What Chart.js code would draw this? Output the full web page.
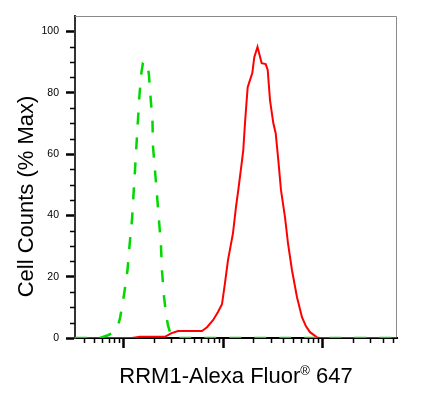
<!DOCTYPE html>
<html>
<head>
<meta charset="utf-8">
<script src="https://cdn.jsdelivr.net/npm/chart.js@4/dist/chart.umd.min.js"></script>
<style>
  html, body { margin: 0; padding: 0; background: #fff; }
  canvas { display: block; }
</style>
</head>
<body>
<canvas id="c" width="441" height="393"></canvas>
<script>
// ---- Data ----
// Isotype control (green dashed): fluorescence intensity vs % max
const controlX = [32.2, 57.4, 69.0, 75.7, 87.0, 91.2, 100, 108.4, 113.6, 120.3, 124.6, 129.0, 133.5, 138.2, 143.1, 149.9, 155.2, 162.6, 172.3, 178.3, 184.6, 193.4, 195.6, 205, 214.7, 224.8, 235.4, 241, 252.4, 264.2, 276.8, 296.7, 325.5, 55420];
const controlY = [0, 0, 0.9, 1.5, 4.1, 6.4, 14, 22, 30, 38.4, 46.6, 54.7, 62.9, 71.1, 79.2, 86.7, 89.7, 90.3, 89, 85.7, 78.9, 70.7, 62.6, 54.7, 46.6, 38.4, 30.2, 22, 13.6, 8, 4.1, 0.9, 0, 0];
// RRM1 stained sample (red solid)
const rrm1X = [32.2, 120.3, 144.8, 258.2, 296.7, 348.9, 608, 682.8, 784.7, 880.5, 966, 1035, 1110, 1246, 1335, 1408, 1524, 1581, 1645, 1711, 1751, 1846, 1948, 2040, 2197, 2420, 2656, 2782, 2934, 3166, 3347, 3555, 3784, 4150, 4448, 4880, 5480, 6150, 6746, 7400, 8704, 9328, 55420];
const rrm1Y = [0, 0, 0.4, 0.4, 1.5, 2.3, 2.3, 3.5, 5.8, 8.5, 11.0, 17.9, 25.4, 34.2, 42.7, 48.2, 57.0, 61.3, 70.1, 77.6, 81.8, 84.1, 86.4, 91.6, 94.9, 89.6, 89.3, 87.4, 77.6, 70.1, 66.8, 58.0, 48.2, 39.4, 30.9, 22.1, 13.3, 6.8, 3.8, 1.9, 0.2, 0, 0];

// Axis ticks
const yTickValues = [0, 5, 10, 15, 20, 25, 30, 35, 40, 45, 50, 55, 60, 65, 70, 75, 80, 85, 90, 95, 100];
const yLabelValues = [0, 20, 40, 60, 80, 100];
const xTickValues = [40, 50, 60, 70, 80, 90, 100, 200, 300, 400, 500, 600, 700, 800, 900, 1000, 2000, 3000, 4000, 5000, 6000, 7000, 8000, 9000, 10000, 20000, 30000, 40000, 50000];
const xMajorValues = [100, 1000, 10000];

const xTitleMain = 'RRM1-Alexa Fluor';
const xTitleSup = '®';
const xTitleTail = ' 647';
const yTitle = 'Cell Counts (% Max)';

const FONT = 'Arial, "Liberation Sans", sans-serif';

function pts(xs, ys) { return xs.map((x, i) => ({ x: x, y: ys[i] })); }
const isMajorX = v => xMajorValues.includes(v);
const isMajorY = v => yLabelValues.includes(v);

const frameAndTicks = {
  id: 'frameAndTicks',
  beforeDatasetsDraw(chart) {
    const { ctx, chartArea: a } = chart;
    ctx.save();
    ctx.strokeStyle = '#8a8a8a';
    ctx.lineWidth = 1;
    ctx.beginPath();
    ctx.moveTo(a.left, a.top + 0.5);
    ctx.lineTo(a.right - 0.5, a.top + 0.5);
    ctx.lineTo(a.right - 0.5, a.bottom);
    ctx.stroke();
    ctx.restore();
  },
  afterDraw(chart) {
    const { ctx, chartArea: a } = chart;
    const xs = chart.scales.x, ys = chart.scales.y;
    ctx.save();
    ctx.strokeStyle = '#000';
    ctx.lineWidth = 1.5;
    // minor y ticks
    yTickValues.filter(v => !isMajorY(v)).forEach(v => {
      const p = Math.round(ys.getPixelForValue(v)) + 0.5;
      ctx.beginPath();
      ctx.moveTo(a.left - 5, p);
      ctx.lineTo(a.left, p);
      ctx.stroke();
    });
    // minor x ticks
    xTickValues.filter(v => !isMajorX(v)).forEach(v => {
      const p = Math.round(xs.getPixelForValue(v)) + 0.5;
      ctx.beginPath();
      ctx.moveTo(p, a.bottom);
      ctx.lineTo(p, a.bottom + 5);
      ctx.stroke();
    });
    // axis titles
    ctx.fillStyle = '#000';
    ctx.textBaseline = 'alphabetic';
    // x title with superscript ®
    const mainFont = '22px ' + FONT, supFont = '13px ' + FONT;
    ctx.font = mainFont;
    const w1 = ctx.measureText(xTitleMain).width;
    const w3 = ctx.measureText(xTitleTail).width;
    ctx.font = supFont;
    const w2 = ctx.measureText(xTitleSup).width;
    const total = w1 + w2 + w3;
    let x0 = (a.left + a.right) / 2 - total / 2;
    const base = 383;
    ctx.textAlign = 'left';
    ctx.font = mainFont;
    ctx.fillText(xTitleMain, x0, base);
    ctx.font = supFont;
    ctx.fillText(xTitleSup, x0 + w1, base - 8);
    ctx.font = mainFont;
    ctx.fillText(xTitleTail, x0 + w1 + w2, base);
    // y title
    ctx.translate(33, chart.height / 2);
    ctx.rotate(-Math.PI / 2);
    ctx.textAlign = 'center';
    ctx.font = mainFont;
    ctx.fillText(yTitle, 0, 0);
    ctx.restore();
  }
};

new Chart(document.getElementById('c'), {
  type: 'line',
  data: {
    datasets: [
      {
        label: 'RRM1',
        data: pts(rrm1X, rrm1Y),
        borderColor: '#ff0000',
        borderWidth: 2,
        pointRadius: 0,
        tension: 0,
        fill: false,
        order: 2
      },
      {
        label: 'Isotype control',
        data: pts(controlX, controlY),
        borderColor: '#00d800',
        borderWidth: 2.5,
        borderDash: [12, 13],
        pointRadius: 0,
        tension: 0,
        fill: false,
        order: 1
      }
    ]
  },
  options: {
    responsive: false,
    devicePixelRatio: 1,
    animation: false,
    events: [],
    layout: { padding: { top: 16, right: 44, left: 0, bottom: 0 } },
    plugins: { legend: { display: false }, tooltip: { enabled: false }, title: { display: false } },
    scales: {
      x: {
        type: 'logarithmic',
        min: 32.2,
        max: 55420,
        afterBuildTicks: s => { s.ticks = xTickValues.map(v => ({ value: v })); },
        afterFit: s => { s.height = 55; },
        ticks: { display: false, autoSkip: false },
        grid: {
          display: true,
          drawOnChartArea: false,
          drawTicks: true,
          tickLength: 10,
          tickWidth: 2.5,
          tickColor: c => (c.tick && isMajorX(c.tick.value)) ? '#000' : 'rgba(0,0,0,0)'
        },
        border: { display: true, color: '#000', width: 2 }
      },
      y: {
        type: 'linear',
        min: 0,
        max: 105,
        afterBuildTicks: s => { s.ticks = yTickValues.map(v => ({ value: v })); },
        afterFit: s => { s.width = 75; },
        ticks: {
          autoSkip: false,
          padding: 7,
          color: '#000',
          font: { family: FONT, size: 10.5 },
          callback: v => isMajorY(v) ? String(v) : ''
        },
        grid: {
          display: true,
          drawOnChartArea: false,
          drawTicks: true,
          tickLength: 9,
          tickWidth: 2.5,
          tickColor: c => (c.tick && isMajorY(c.tick.value)) ? '#000' : 'rgba(0,0,0,0)'
        },
        border: { display: true, color: '#333', width: 2 }
      }
    }
  },
  plugins: [frameAndTicks]
});
</script>
</body>
</html>
